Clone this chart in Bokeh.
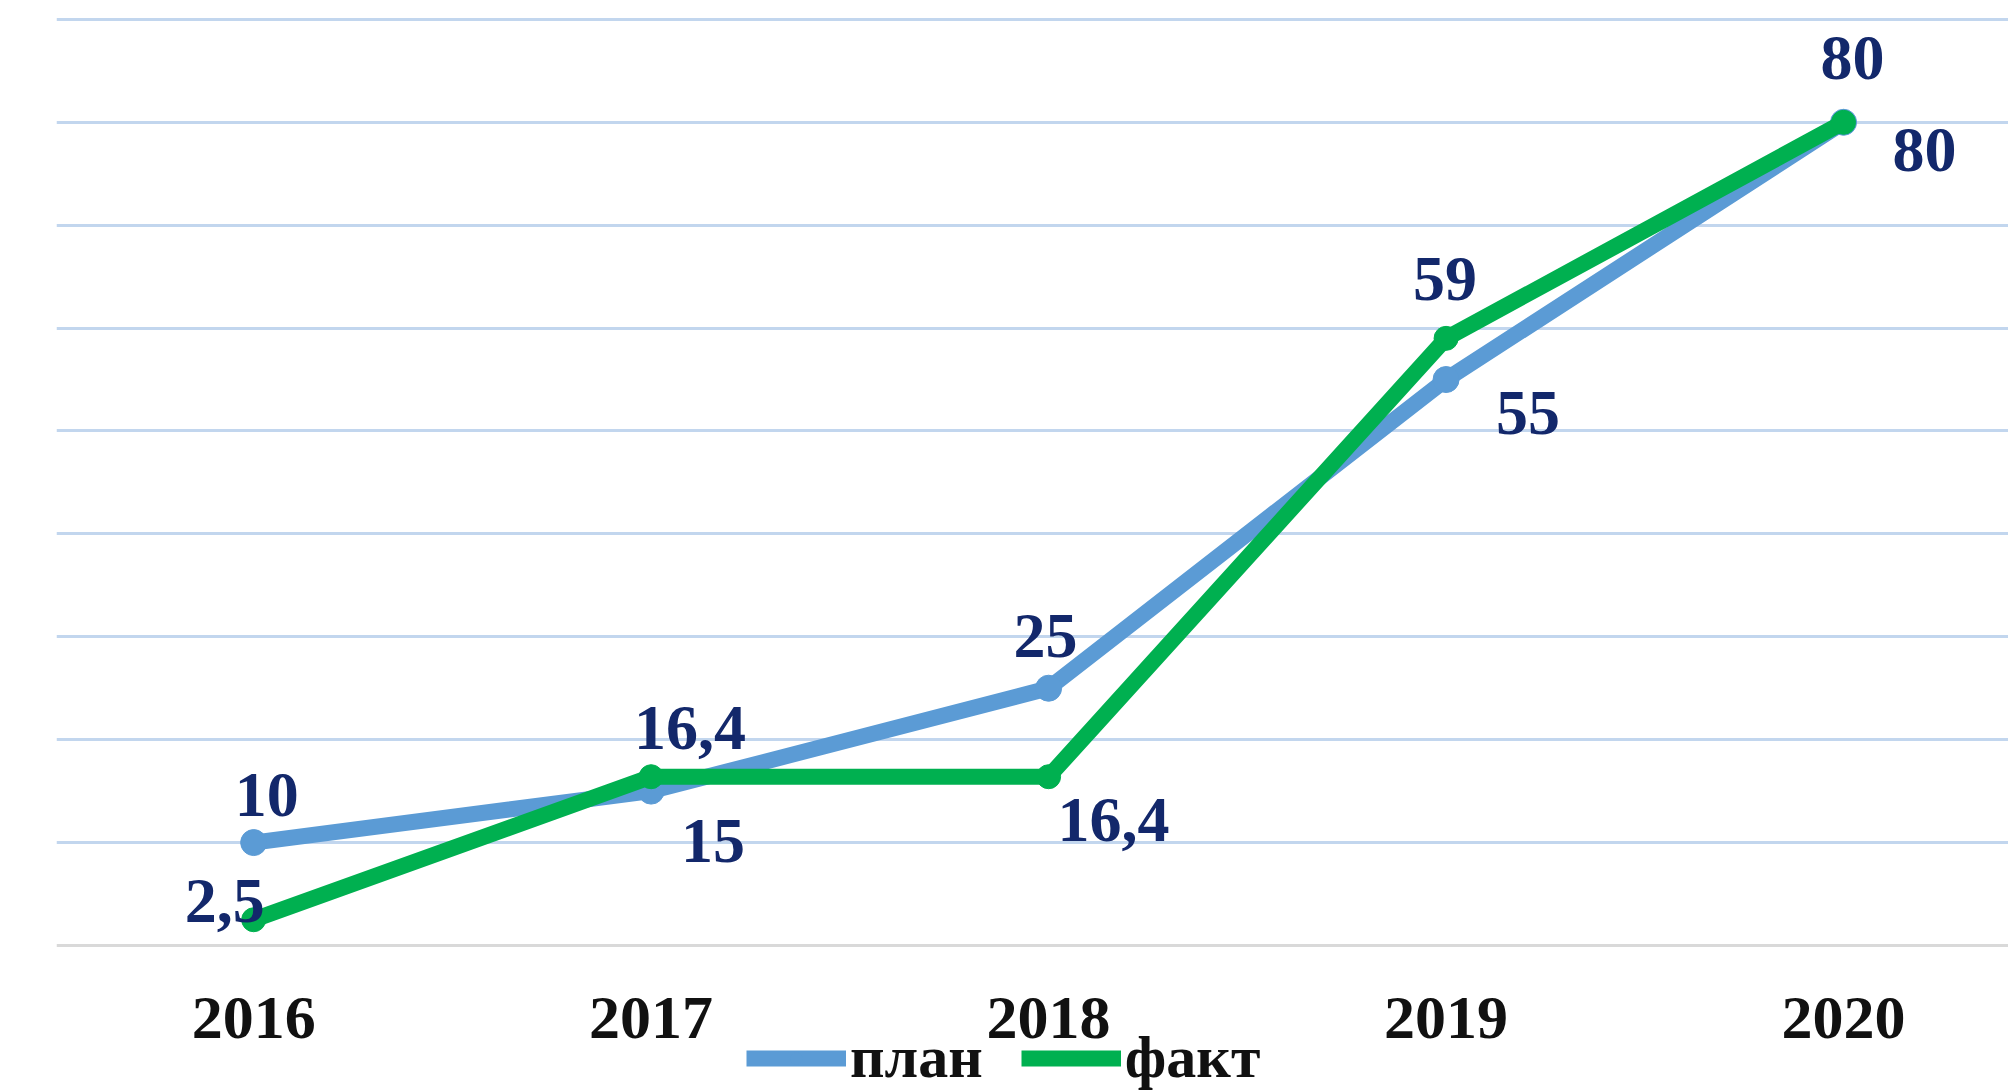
from bokeh.plotting import figure
from bokeh.models import ColumnDataSource, Range1d, FixedTicker, Legend, LegendItem
from bokeh.core.properties import value
from bokeh.embed import file_html
from bokeh.resources import INLINE

# ---- data ----
years = [2016, 2017, 2018, 2019, 2020]
plan = [10, 15, 25, 55, 80]
fact = [2.5, 16.4, 16.4, 59, 80]
series_names = ["план", "факт"]
grid_values = [10, 20, 30, 40, 50, 60, 70, 80, 90]

# ---- style ----
BLUE = "#5B9BD5"
GREEN = "#00B050"
LABEL_COLOR = "#13286B"
GRID_COLOR = "#C2D6EE"
FONT = "Liberation Serif"

# label offsets (screen px) relative to points
plan_dx = [13, 62, -3, 82, 81]
plan_dy = [-48, 50, -52, 33, 28]
fact_dx = [-29, 39, 65, -1, 9]
fact_dy = [-19, -49, 43, -59, -64]


def fmt(v):
    s = ("%g" % v)
    return s.replace(".", ",")


p = figure(width=2008, height=1092, output_backend="svg", toolbar_location=None,
           x_range=Range1d(2015.504, 2020.415), y_range=Range1d(-14.29, 90.67),
           min_border_left=56, min_border_right=0, min_border_top=12, min_border_bottom=0)
p.outline_line_color = None
p.background_fill_color = "white"
p.border_fill_color = "white"

p.yaxis.visible = False
p.xgrid.visible = False
p.ygrid.ticker = FixedTicker(ticks=grid_values)
p.ygrid.grid_line_color = GRID_COLOR
p.ygrid.grid_line_width = 3

p.xaxis.fixed_location = 0
p.xaxis.ticker = FixedTicker(ticks=years)
p.xaxis.axis_line_color = "#D9D9D9"
p.xaxis.axis_line_width = 3
p.xaxis.major_tick_line_color = None
p.xaxis.minor_tick_line_color = None
p.xaxis.major_tick_out = 0
p.xaxis.major_tick_in = 0
p.xaxis.major_label_standoff = 53
p.xaxis.major_label_text_font = FONT
p.xaxis.major_label_text_font_style = "bold"
p.xaxis.major_label_text_font_size = "62px"
p.xaxis.major_label_text_color = "#111111"

src_plan = ColumnDataSource(dict(x=years, y=plan, t=[fmt(v) for v in plan], dx=plan_dx, dy=plan_dy))
src_fact = ColumnDataSource(dict(x=years, y=fact, t=[fmt(v) for v in fact], dx=fact_dx, dy=fact_dy))

l1 = p.line("x", "y", source=src_plan, line_color=BLUE, line_width=16, line_join="round")
m1 = p.scatter("x", "y", source=src_plan, size=26, fill_color=BLUE, line_color=BLUE)
l2 = p.line("x", "y", source=src_fact, line_color=GREEN, line_width=16, line_join="round")
m2 = p.scatter("x", "y", source=src_fact, size=24, fill_color=GREEN, line_color=GREEN)

for src in (src_plan, src_fact):
    p.text("x", "y", text="t", source=src, x_offset="dx", y_offset="dy",
           text_font=value(FONT), text_font_style="bold", text_font_size="64px",
           text_color=LABEL_COLOR, text_align="center", text_baseline="middle")

legend = Legend(items=[LegendItem(label=series_names[0], renderers=[l1, m1]),
                       LegendItem(label=series_names[1], renderers=[l2, m2])],
                orientation="horizontal", location=(690, 0),
                label_text_font=FONT, label_text_font_style="bold",
                label_text_font_size="60px", label_text_color="#111111",
                glyph_width=100, glyph_height=30, label_standoff=4, spacing=38,
                padding=0, margin=0, border_line_color=None,
                background_fill_alpha=0)
p.add_layout(legend, "center")

open("out.html", "w").write(file_html(p, INLINE))
